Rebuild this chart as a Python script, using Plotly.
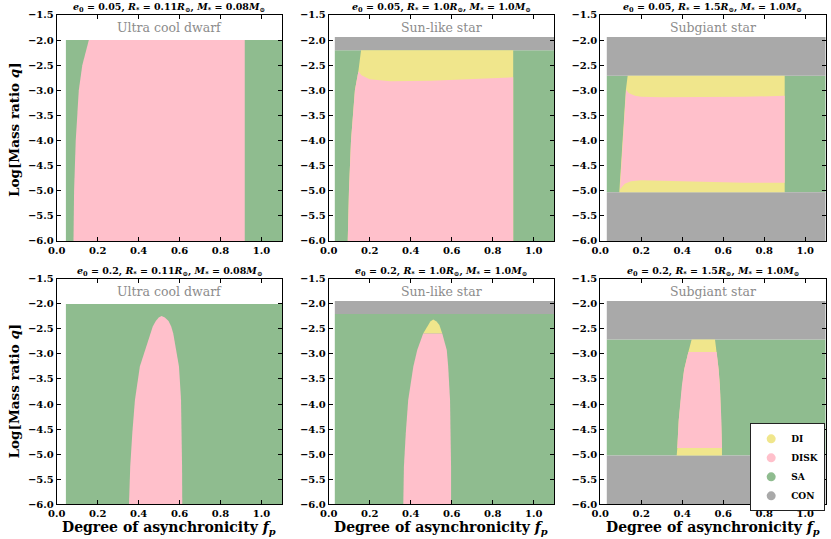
import plotly.graph_objects as go
from plotly.subplots import make_subplots

# ---- data ----
fp_max = 1.1

# ultra cool dwarf
ucd_fp_start = 0.045
ucd_q_top = -2.0
ucd05_disk_q = [-6.0, -5.0, -4.0, -3.0, -2.5, -2.0]
ucd05_disk_left = [0.082, 0.085, 0.093, 0.108, 0.125, 0.157]
ucd05_disk_right = 0.918
ucd20_disk_q = [-6.0, -5.25, -4.59, -3.92, -3.25, -2.59, -2.45, -2.34, -2.27, -2.24]
ucd20_disk_left = [0.353, 0.359, 0.369, 0.382, 0.406, 0.455, 0.469, 0.484, 0.498, 0.512]
ucd20_disk_right = [0.613, 0.612, 0.611, 0.607, 0.597, 0.569, 0.559, 0.546, 0.528, 0.512]

# sun-like star
sun_fp_start = 0.03
sun_con = [-2.2, -1.94]
sun05_left_q = [-6.0, -5.0, -4.0, -3.0, -2.62, -2.2]
sun05_left_fp = [0.093, 0.099, 0.109, 0.128, 0.145, 0.158]
sun05_right = 0.90
sun05_disk_top_fp = [0.145, 0.16, 0.2, 0.3, 0.5, 0.7, 0.9]
sun05_disk_top_q = [-2.62, -2.70, -2.78, -2.82, -2.81, -2.78, -2.74]
sun20_q = [-6.0, -5.25, -4.59, -3.92, -3.25, -2.92, -2.59, -2.42, -2.35, -2.31]
sun20_left = [0.364, 0.367, 0.376, 0.388, 0.413, 0.432, 0.461, 0.483, 0.496, 0.51]
sun20_right = [0.597, 0.597, 0.595, 0.592, 0.583, 0.576, 0.554, 0.54, 0.526, 0.51]
sun20_disk_top = 6  # index of DI/DISK boundary in sun20_q

# subgiant star
sub_fp_start = 0.032
sub_con_top = [-2.71, -1.94]
sub_con_bot = [-6.0, -5.03]
sub05_left_q = [-5.03, -4.0, -3.0, -2.71]
sub05_left_fp = [0.093, 0.108, 0.125, 0.134]
sub05_right = 0.90
sub05_disk_top_fp = [0.126, 0.14, 0.17, 0.2, 0.3, 0.5, 0.7, 0.9]
sub05_disk_top_q = [-2.99, -3.06, -3.11, -3.13, -3.14, -3.14, -3.13, -3.11]
sub05_disk_bot_fp = [0.096, 0.12, 0.15, 0.2, 0.3, 0.5, 0.7, 0.9]
sub05_disk_bot_q = [-4.97, -4.86, -4.81, -4.79, -4.80, -4.82, -4.84, -4.84]
sub20_q = [-5.03, -4.88, -4.32, -3.65, -3.32, -2.96, -2.71]
sub20_left = [0.373, 0.376, 0.383, 0.398, 0.409, 0.43, 0.446]
sub20_right = [0.594, 0.594, 0.591, 0.584, 0.578, 0.568, 0.56]

x_ticks = [0.0, 0.2, 0.4, 0.6, 0.8, 1.0]
y_ticks = [-6.0, -5.5, -5.0, -4.5, -4.0, -3.5, -3.0, -2.5, -2.0, -1.5]

panel_titles = [
    "<i>e</i><sub>0</sub> = 0.05, <i>R</i><sub>*</sub> = 0.11<i>R</i><sub>⊙</sub>, <i>M</i><sub>*</sub> = 0.08<i>M</i><sub>⊙</sub>",
    "<i>e</i><sub>0</sub> = 0.05, <i>R</i><sub>*</sub> = 1.0<i>R</i><sub>⊙</sub>, <i>M</i><sub>*</sub> = 1.0<i>M</i><sub>⊙</sub>",
    "<i>e</i><sub>0</sub> = 0.05, <i>R</i><sub>*</sub> = 1.5<i>R</i><sub>⊙</sub>, <i>M</i><sub>*</sub> = 1.0<i>M</i><sub>⊙</sub>",
    "<i>e</i><sub>0</sub> = 0.2, <i>R</i><sub>*</sub> = 0.11<i>R</i><sub>⊙</sub>, <i>M</i><sub>*</sub> = 0.08<i>M</i><sub>⊙</sub>",
    "<i>e</i><sub>0</sub> = 0.2, <i>R</i><sub>*</sub> = 1.0<i>R</i><sub>⊙</sub>, <i>M</i><sub>*</sub> = 1.0<i>M</i><sub>⊙</sub>",
    "<i>e</i><sub>0</sub> = 0.2, <i>R</i><sub>*</sub> = 1.5<i>R</i><sub>⊙</sub>, <i>M</i><sub>*</sub> = 1.0<i>M</i><sub>⊙</sub>",
]
star_labels = ["Ultra cool dwarf", "Sun-like star", "Subgiant star"]
legend_names = ["DI", "DISK", "SA", "CON"]

COLORS = dict(DI='#F0E68C', DISK='#FFC0CB', SA='#8FBC8F', CON='#A9A9A9')
FONT = "DejaVu Serif"


def rect(x0, x1, y0, y1):
    return [x0, x1, x1, x0, x0], [y0, y0, y1, y1, y0]


def region(fig, xs, ys, kind, row, col):
    fig.add_trace(go.Scatter(x=xs, y=ys, mode='lines', fill='toself',
                             fillcolor=COLORS[kind],
                             line=dict(width=0, color=COLORS[kind]),
                             hoverinfo='skip', showlegend=False),
                  row=row, col=col)


def bold_num(v):
    return '<b>' + ('%.1f' % v).replace('-', '\u2212') + '</b>'


fig = make_subplots(rows=2, cols=3)

# --- top row, e0 = 0.05 ---
region(fig, *rect(ucd_fp_start, fp_max, -6.0, ucd_q_top), 'SA', 1, 1)
region(fig, ucd05_disk_left + [ucd05_disk_right, ucd05_disk_right],
       ucd05_disk_q + [ucd_q_top, -6.0], 'DISK', 1, 1)

region(fig, *rect(sun_fp_start, fp_max, -6.0, sun_con[0]), 'SA', 1, 2)
region(fig, *rect(sun_fp_start, fp_max, sun_con[0], sun_con[1]), 'CON', 1, 2)
region(fig, sun05_left_fp + [sun05_right, sun05_right],
       sun05_left_q + [sun_con[0], -6.0], 'DI', 1, 2)
region(fig, sun05_left_fp[:5] + sun05_disk_top_fp[1:] + [sun05_right],
       sun05_left_q[:5] + sun05_disk_top_q[1:] + [-6.0], 'DISK', 1, 2)

region(fig, *rect(sub_fp_start, fp_max, sub_con_bot[1], sub_con_top[0]), 'SA', 1, 3)
region(fig, *rect(sub_fp_start, fp_max, sub_con_top[0], sub_con_top[1]), 'CON', 1, 3)
region(fig, *rect(sub_fp_start, fp_max, sub_con_bot[0], sub_con_bot[1]), 'CON', 1, 3)
region(fig, sub05_left_fp + [sub05_right, sub05_right],
       sub05_left_q + [sub_con_top[0], sub_con_bot[1]], 'DI', 1, 3)
region(fig, sub05_disk_bot_fp + sub05_disk_top_fp[::-1],
       sub05_disk_bot_q + sub05_disk_top_q[::-1], 'DISK', 1, 3)

# --- bottom row, e0 = 0.2 ---
region(fig, *rect(ucd_fp_start, fp_max, -6.0, ucd_q_top), 'SA', 2, 1)
region(fig, ucd20_disk_left + ucd20_disk_right[::-1],
       ucd20_disk_q + ucd20_disk_q[::-1], 'DISK', 2, 1)

k = sun20_disk_top
region(fig, *rect(sun_fp_start, fp_max, -6.0, sun_con[0]), 'SA', 2, 2)
region(fig, *rect(sun_fp_start, fp_max, sun_con[0], sun_con[1]), 'CON', 2, 2)
region(fig, sun20_left[k:] + sun20_right[k:][::-1],
       sun20_q[k:] + sun20_q[k:][::-1], 'DI', 2, 2)
region(fig, sun20_left[:k + 1] + sun20_right[:k + 1][::-1],
       sun20_q[:k + 1] + sun20_q[:k + 1][::-1], 'DISK', 2, 2)

region(fig, *rect(sub_fp_start, fp_max, sub_con_bot[1], sub_con_top[0]), 'SA', 2, 3)
region(fig, *rect(sub_fp_start, fp_max, sub_con_top[0], sub_con_top[1]), 'CON', 2, 3)
region(fig, *rect(sub_fp_start, fp_max, sub_con_bot[0], sub_con_bot[1]), 'CON', 2, 3)
region(fig, sub20_left + sub20_right[::-1], sub20_q + sub20_q[::-1], 'DI', 2, 3)
region(fig, sub20_left[1:6] + sub20_right[1:6][::-1],
       sub20_q[1:6] + sub20_q[1:6][::-1], 'DISK', 2, 3)

# legend entries
for name in legend_names:
    fig.add_trace(go.Scatter(x=[None], y=[None], mode='markers', name='<b>' + name + '</b>',
                             marker=dict(size=9, color=COLORS[name])),
                  row=2, col=3)

x_domains = [[0.0682, 0.3394], [0.3955, 0.6669], [0.7223, 0.9936]]
y_domains = [[0.5529, 0.9722], [0.0649, 0.4824]]

tick_font = dict(family=FONT, size=10, color='black')
for r in (1, 2):
    for c in (1, 2, 3):
        fig.update_xaxes(domain=x_domains[c - 1], range=[0, fp_max],
                         tickvals=x_ticks, ticktext=[bold_num(v) for v in x_ticks],
                         ticks='inside', ticklen=4, tickcolor='black',
                         showline=True, linecolor='black', linewidth=1,
                         mirror='allticks', showgrid=False, zeroline=False,
                         automargin=False, tickfont=tick_font, row=r, col=c)
        fig.update_yaxes(domain=y_domains[r - 1], range=[-6.0, -1.5],
                         tickvals=y_ticks, ticktext=[bold_num(v) for v in y_ticks],
                         ticks='inside', ticklen=4, tickcolor='black',
                         showline=True, linecolor='black', linewidth=1,
                         mirror='allticks', showgrid=False, zeroline=False,
                         automargin=False, tickfont=tick_font, row=r, col=c)

annotations = []
for i, title in enumerate(panel_titles):
    s = '' if i == 0 else str(i + 1)
    annotations.append(dict(text='<b>' + title + '</b>', xref='x' + s + ' domain',
                            yref='y' + s + ' domain', x=0.5, y=1.0,
                            xanchor='center', yanchor='bottom',
                            yshift=-1, showarrow=False,
                            font=dict(family=FONT, size=9.5, color='black')))
    annotations.append(dict(text=star_labels[i % 3], xref='x' + s, yref='y' + s,
                            x=0.55, y=-1.75, xanchor='center', yanchor='middle',
                            showarrow=False,
                            font=dict(family=FONT, size=12.5, color='#8c8c8c')))

for yc in (0.759, 0.274):
    annotations.append(dict(text='<b>Log[Mass ratio <i>q</i>]</b>', xref='paper',
                            yref='paper', x=0.017, y=yc, textangle=-90,
                            xanchor='center', yanchor='middle', showarrow=False,
                            font=dict(family=FONT, size=13.5, color='black')))
for xd in x_domains:
    annotations.append(dict(text='<b>Degree of asynchronicity <i>f<sub>p</sub></i></b>',
                            xref='paper', yref='paper', x=(xd[0] + xd[1]) / 2,
                            y=0.021, xanchor='center', yanchor='middle', showarrow=False,
                            font=dict(family=FONT, size=14, color='black')))

fig.update_layout(width=831, height=539, margin=dict(l=0, r=0, t=0, b=0),
                  paper_bgcolor='white', plot_bgcolor='white',
                  annotations=annotations,
                  legend=dict(x=0.993, y=0.133, xanchor='right', yanchor='middle',
                              bgcolor='white', bordercolor='#222', borderwidth=1,
                              font=dict(family=FONT, size=9, color='black')))

# drop the browser's default page margin so the figure sits at the window corner
fig.write_html("out.html", config={'displayModeBar': False},
               post_script="document.body.style.margin = '0px';")
